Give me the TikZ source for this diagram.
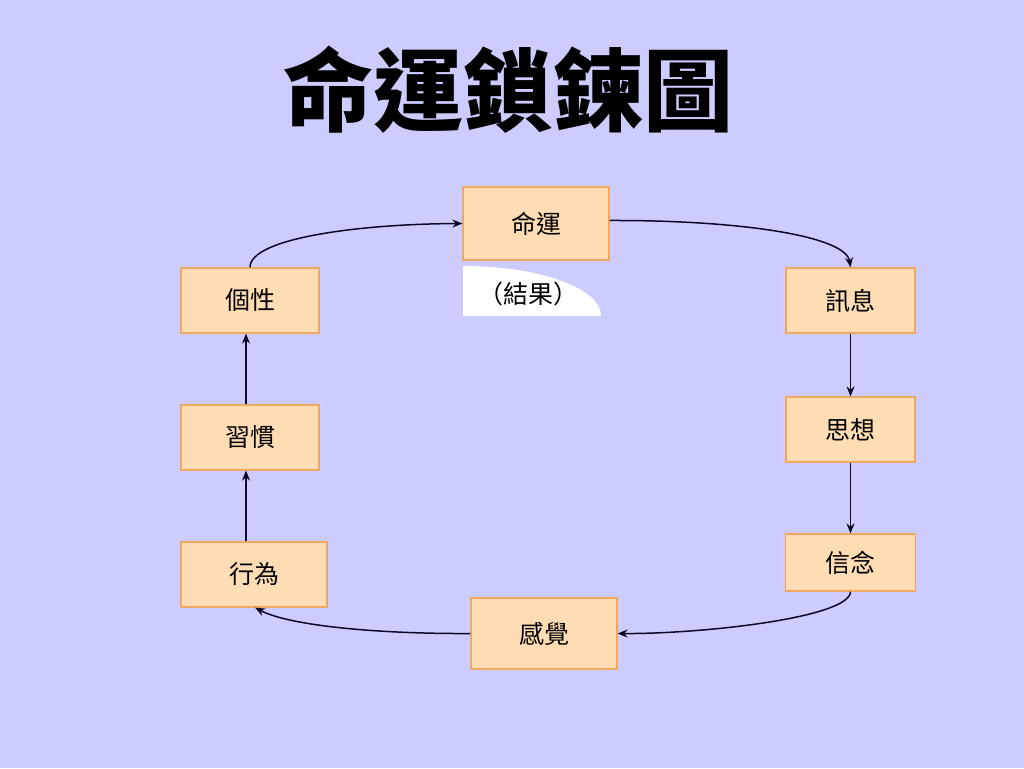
\documentclass[tikz,border=0pt]{standalone}
\usepackage{fontspec}
\newfontfamily\cjk{Noto Sans CJK TC}
\usetikzlibrary{arrows.meta}
\definecolor{bg}{RGB}{204,204,255}
\definecolor{boxfill}{RGB}{255,221,180}
\definecolor{boxline}{RGB}{240,168,96}
\definecolor{linecol}{RGB}{10,10,40}
\begin{document}
\begin{tikzpicture}[x=1pt,y=-1pt,
  box/.style={draw=boxline,fill=boxfill,line width=1.2pt,inner sep=0pt,
    font=\cjk\fontsize{25}{30}\selectfont,text=black},
  conn/.style={draw=linecol,line width=1.5pt,-{Stealth[length=10pt,width=8pt]}}]
\path[fill=bg] (0,0) rectangle (1024,768);
\useasboundingbox (0,0) rectangle (1024,768);
\node[font=\cjk\bfseries\fontsize{90}{98}\selectfont] (title) at (508,90) {命運鎖鍊圖};
% boxes
\node[box,minimum width=146pt,minimum height=73pt] (mingyun) at (536,223.5) {命運};
\node[box,minimum width=138pt,minimum height=65pt] (gexing) at (250,300.5) {個性};
\node[box,minimum width=129pt,minimum height=65pt] (xunxi) at (850.5,300.5) {訊息};
\node[box,minimum width=138pt,minimum height=65pt] (xiguan) at (250,437.5) {習慣};
\node[box,minimum width=129pt,minimum height=65pt] (sixiang) at (850.5,429.5) {思想};
\node[box,minimum width=146pt,minimum height=65pt] (xingwei) at (254,574.5) {行為};
\node[box,minimum width=130pt,minimum height=57pt] (xinnian) at (850.5,562.5) {信念};
\node[box,minimum width=146pt,minimum height=71pt] (ganjue) at (544,633.5) {感覺};
% result label shape
\fill[white] (463,266) .. controls (539,266) and (601,288) .. (601,316) -- (463,316) -- cycle;
\node[font=\cjk\fontsize{25}{30}\selectfont] (jieguo) at (528,294) {（結果）};
% connectors
\draw[conn] (gexing.north) .. controls (250,238) and (360,224) .. (mingyun.west);
\draw[conn] ([yshift=3pt]mingyun.east) .. controls (740,220) and (846,236) .. (xunxi.north);
\draw[conn] (xunxi) -- (sixiang);
\draw[conn] (sixiang) -- (xinnian);
\draw[conn] (xinnian.south) .. controls (850,618) and (700,634) .. (ganjue.east);
\draw[conn] (ganjue.west) .. controls (380,634) and (290,626) .. ([xshift=1pt]xingwei.south);
\draw[conn] ([xshift=-8pt]xingwei.north) -- ([xshift=-4pt]xiguan.south);
\draw[conn] ([xshift=-4pt]xiguan.north) -- ([xshift=-4pt]gexing.south);
\end{tikzpicture}
\end{document}
